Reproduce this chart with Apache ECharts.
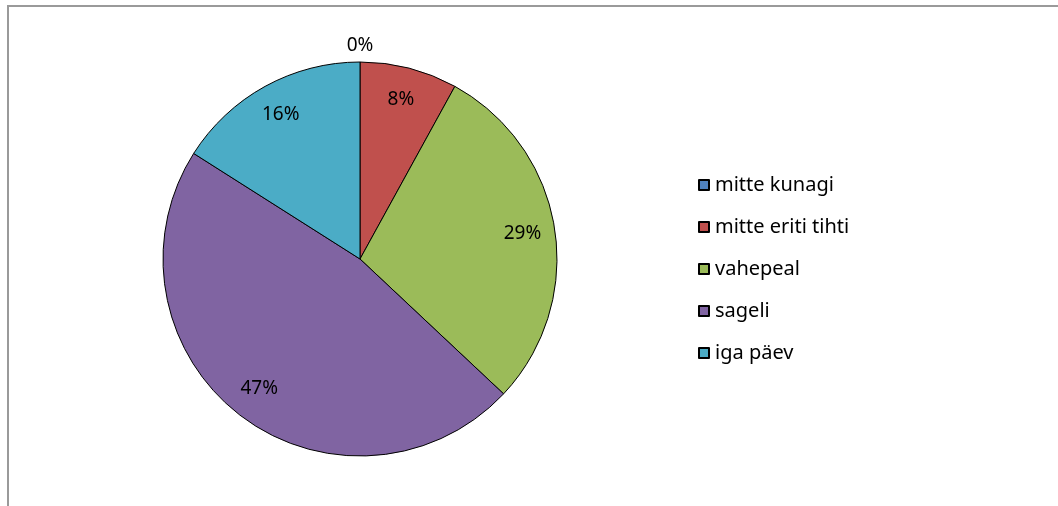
<!DOCTYPE html>
<html>
<head>
<meta charset="utf-8">
<script src="https://cdn.jsdelivr.net/npm/echarts@6/dist/echarts.min.js"></script>
<style>
html,body{margin:0;padding:0;background:#fff;}
#chart{width:1058px;height:506px;}
</style>
</head>
<body>
<div id="chart"></div>
<script>
var categories = ['mitte kunagi', 'mitte eriti tihti', 'vahepeal', 'sageli', 'iga päev'];
var values = [0, 8, 29, 47, 16];
var colors = ['#4F81BD', '#C0504D', '#9BBB59', '#8064A2', '#4BACC6'];

var FONT = 'Noto Sans';
var chart = echarts.init(document.getElementById('chart'));
var total = values.reduce(function(a, b){ return a + b; }, 0);
function pct(v){ return Math.round(v / total * 100) + '%'; }

var mainData = categories.map(function(c, i){
  return { name: c, value: values[i], itemStyle: { color: colors[i] } };
});
var innerLabelData = categories.map(function(c, i){
  return { name: c, value: values[i], itemStyle: { color: 'rgba(0,0,0,0)', borderWidth: 0 },
    label: { show: values[i] > 0 } };
});
var outerLabelData = categories.map(function(c, i){
  return { name: c, value: values[i], itemStyle: { color: 'rgba(0,0,0,0)', borderWidth: 0 },
    label: { show: values[i] === 0 } };
});

var labelStyle = {
  position: 'inside',
  color: '#000',
  fontFamily: FONT,
  fontSize: 19,
  formatter: function(p){ return pct(p.value); }
};

chart.setOption({
  animation: false,
  graphic: [{
    type: 'polyline',
    shape: { points: [[8, 506], [8, 6], [1058, 6]] },
    style: { stroke: '#9a9a9a', lineWidth: 2, fill: null },
    silent: true
  }],
  legend: {
    orient: 'vertical',
    left: 693,
    top: 170,
    itemWidth: 10,
    itemHeight: 10,
    itemGap: 22,
    icon: 'rect',
    data: categories,
    textStyle: { fontFamily: FONT, fontSize: 20, color: '#000', padding: [0, 0, 0, 1] },
    selectedMode: false
  },
  series: [
    {
      type: 'pie',
      center: [360, 259],
      radius: [0, 197],
      startAngle: 90,
      clockwise: true,
      silent: true,
      label: { show: false },
      labelLine: { show: false },
      itemStyle: { borderColor: '#000', borderWidth: 1 },
      data: mainData
    },
    {
      type: 'pie',
      center: [360, 259],
      radius: [126, 197],
      startAngle: 90,
      clockwise: true,
      silent: true,
      label: labelStyle,
      labelLine: { show: false },
      data: innerLabelData
    },
    {
      type: 'pie',
      center: [360, 259],
      radius: [197, 223],
      startAngle: 90,
      clockwise: true,
      silent: true,
      label: labelStyle,
      labelLine: { show: false },
      data: outerLabelData
    }
  ]
});
</script>
</body>
</html>
